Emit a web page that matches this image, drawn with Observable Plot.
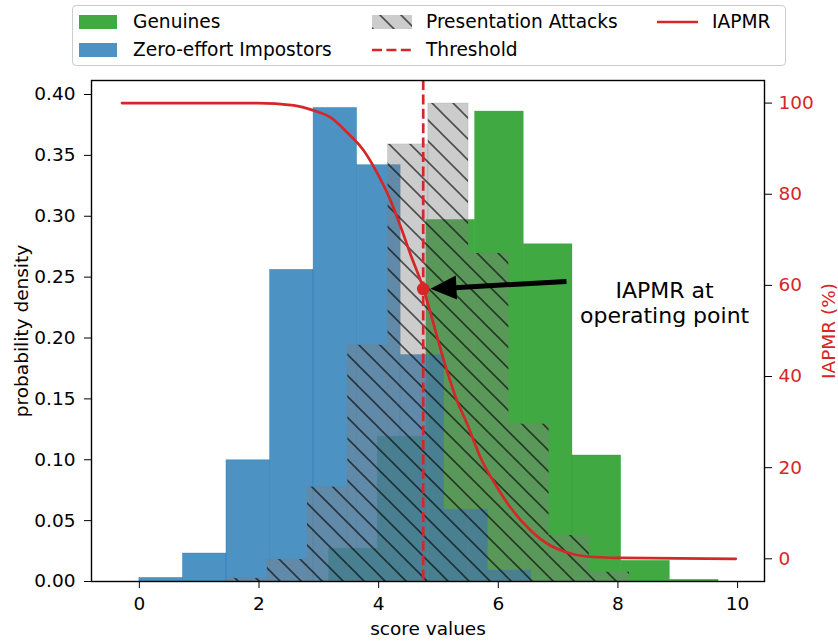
<!DOCTYPE html>
<html>
<head>
<meta charset="utf-8">
<script src="https://cdn.jsdelivr.net/npm/d3@7"></script>
<script src="https://cdn.jsdelivr.net/npm/@observablehq/plot@0.6"></script>
<style>
  html, body { margin: 0; padding: 0; background: #fff; }
  body { font-family: "DejaVu Sans", sans-serif; width: 838px; }
  #legendWrap { position: relative; width: 838px; height: 70px; }
  #legendBox { position: absolute; left: 72px; top: 5px; width: 714px; height: 61px; box-sizing: border-box;
               border: 1px solid #cccccc; border-radius: 4px; background: #fff; }
  .lab { position: absolute; font-size: 18.6px; line-height: 22px; color: #000; white-space: nowrap; }
  .sw { position: absolute; }
</style>
</head>
<body>
<div id="legendWrap"></div>
<div id="chart"></div>
<script>
// ---------- data ----------
const legendLabels = ["Genuines", "Zero-effort Impostors", "Presentation Attacks", "Threshold", "IAPMR"];

// Genuines histogram (bin edges, densities)
const genuineEdges   = [3.17, 3.984, 4.798, 5.612, 6.426, 7.24, 8.054, 8.868, 9.682];
const genuineHeights = [0.027, 0.119, 0.297, 0.386, 0.277, 0.1035, 0.017, 0.0014];

// Zero-effort impostors histogram
const impostorEdges   = [0, 0.728, 1.456, 2.184, 2.912, 3.64, 4.368, 5.096, 5.824, 6.552];
const impostorHeights = [0.003, 0.023, 0.0996, 0.256, 0.389, 0.342, 0.186, 0.059, 0.009];

// Presentation attacks histogram
const attackEdges   = [1.467, 2.14, 2.812, 3.485, 4.158, 4.83, 5.503, 6.176, 6.849, 7.521, 8.194];
const attackHeights = [0.0025, 0.018, 0.0775, 0.194, 0.359, 0.3926, 0.2694, 0.1292, 0.0378, 0.0076];

// IAPMR curve (score, %)
const iapmrScores = [-0.29, 1.97, 2.58, 2.91, 3.19, 3.47, 3.75, 3.97, 4.20, 4.37, 4.53, 4.75, 4.87, 5.09, 5.31, 5.48, 5.70, 5.98, 6.20, 6.54, 6.82, 7.15, 7.48, 8.03, 9.97];
const iapmrValues = [100, 100, 99.5, 98.4, 96.9, 93.6, 89.6, 84.8, 78.6, 72.8, 66.9, 59.2, 53.8, 43.5, 34.7, 29.6, 22.3, 15.7, 11.3, 6.2, 3.3, 1.4, 0.5, 0.2, 0];

const threshold = 4.745;
const operatingIapmr = 59.2;

// annotation
const annotationText = "IAPMR at\noperating point";
const annotationPos = {x: 8.78, v: 56.3};
const arrowStart = {x: 7.14, v: 60.85};
const arrowShaftEnd = {x: 5.20, v: 59.45};
const arrowTip = {x: 4.866, v: 59.25};

// ticks
const xTicks = [0, 2, 4, 6, 8, 10];
const yTicks = [0, 0.05, 0.10, 0.15, 0.20, 0.25, 0.30, 0.35, 0.40];
const rightTicks = [0, 20, 40, 60, 80, 100];

const xLabel = "score values";
const yLabel = "probability density";
const rightLabel = "IAPMR (%)";

// ---------- styles ----------
const GREEN = "#2ca02c", BLUE = "#1f77b4", RED = "#d62728", GREY = "#808080";
const HATCH = 21;

// twin axis mapping: IAPMR % -> left-axis units
const rOff = 0.01864, rK = 0.003743;
const toLeft = v => rOff + rK * v;

function bins(edges, heights) {
  return heights.map((h, i) => ({x1: edges[i], x2: edges[i + 1], h}));
}
const genuine = bins(genuineEdges, genuineHeights);
const impostor = bins(impostorEdges, impostorHeights);
const attack = bins(attackEdges, attackHeights);
const curve = iapmrScores.map((x, i) => ({x, v: iapmrValues[i]}));

function hatchDefs() {
  const g = d3.create("svg:g");
  const p = g.append("defs").append("pattern")
    .attr("id", "hatch").attr("patternUnits", "userSpaceOnUse")
    .attr("width", HATCH).attr("height", HATCH);
  p.append("path")
    .attr("d", `M-2,-2L${HATCH + 2},${HATCH + 2}M${HATCH - 2},-2L${HATCH + 2},2M-2,${HATCH - 2}L2,${HATCH + 2}`)
    .attr("stroke", "#000").attr("stroke-opacity", 0.62).attr("stroke-width", 1.6).attr("fill", "none");
  return g.node();
}

const headSymbol = {
  draw(ctx) { ctx.moveTo(0, 0); ctx.lineTo(26, -12); ctx.lineTo(26, 12); ctx.closePath(); }
};

const chart = Plot.plot({
  width: 838,
  height: 572,
  marginTop: 10,
  marginBottom: 61,
  marginLeft: 91,
  marginRight: 74,
  style: {fontFamily: "DejaVu Sans", fontSize: "18.5px", color: "black", background: "white", overflow: "visible"},
  x: {domain: [-0.80, 10.45]},
  y: {domain: [0, 0.4115]},
  marks: [
    hatchDefs,
    Plot.rect(genuine, {x1: "x1", x2: "x2", y1: 0, y2: "h", fill: GREEN, fillOpacity: 0.9, stroke: GREEN, strokeOpacity: 0.5, strokeWidth: 0.6}),
    Plot.rect(impostor, {x1: "x1", x2: "x2", y1: 0, y2: "h", fill: BLUE, fillOpacity: 0.8, stroke: BLUE, strokeOpacity: 0.5, strokeWidth: 0.6}),
    Plot.rect(attack, {x1: "x1", x2: "x2", y1: 0, y2: "h", fill: GREY, fillOpacity: 0.4, stroke: GREY, strokeOpacity: 0.25, strokeWidth: 0.8}),
    Plot.rect(attack, {x1: "x1", x2: "x2", y1: 0, y2: "h", fill: "url(#hatch)"}),
    Plot.ruleX([threshold], {stroke: RED, strokeWidth: 2.7, strokeDasharray: "10,4.4"}),
    Plot.line(curve, {x: "x", y: d => toLeft(d.v), stroke: RED, strokeWidth: 2.7, curve: "monotone-x"}),
    Plot.dot([{x: threshold, v: operatingIapmr}], {x: "x", y: d => toLeft(d.v), r: 6.3, fill: RED}),
    Plot.link([{a: arrowStart, b: arrowShaftEnd}], {
      x1: d => d.a.x, y1: d => toLeft(d.a.v), x2: d => d.b.x, y2: d => toLeft(d.b.v),
      stroke: "black", strokeWidth: 5
    }),
    Plot.dot([arrowTip], {x: "x", y: d => toLeft(d.v), symbol: headSymbol, r: 10, fill: "black", stroke: "none", rotate: -3}),
    Plot.text([annotationPos], {x: "x", y: d => toLeft(d.v), text: () => annotationText, fontSize: 22, lineHeight: 1.14, textAnchor: "middle", fill: "black"}),
    Plot.frame({stroke: "black", strokeWidth: 1.4}),
    Plot.axisX({ticks: xTicks, tickFormat: d => String(d), tickSize: 7, tickPadding: 8, label: null}),
    Plot.axisY({ticks: yTicks, tickFormat: d3.format(".2f"), tickSize: 7, tickPadding: 9, label: null}),
    Plot.axisY({anchor: "right", ticks: rightTicks.map(toLeft), tickFormat: () => "", tickSize: 7, label: null}),
    Plot.axisY({anchor: "right", ticks: rightTicks.map(toLeft), tickFormat: d => String(Math.round((d - rOff) / rK)), tickSize: 0, tickPadding: 14, color: RED, label: null}),
    Plot.text([xLabel], {text: d => d, frameAnchor: "bottom", lineAnchor: "middle", textAnchor: "middle", dy: 48, fill: "black"}),
    Plot.text([yLabel], {text: d => d, frameAnchor: "left", lineAnchor: "middle", textAnchor: "middle", dx: -69, rotate: -90, fill: "black"}),
    Plot.text([rightLabel], {text: d => d, frameAnchor: "right", lineAnchor: "middle", textAnchor: "middle", dx: 65, rotate: -90, fill: RED})
  ]
});
document.getElementById("chart").appendChild(chart);

// ---------- legend (HTML above the SVG) ----------
const wrap = document.getElementById("legendWrap");
wrap.innerHTML = `<div id="legendBox"></div>
<svg class="sw" style="left:79px;top:15px" width="38" height="14"><rect width="38" height="14" fill="${GREEN}" fill-opacity="0.9"/></svg>
<svg class="sw" style="left:79px;top:43px" width="38" height="14"><rect width="38" height="14" fill="${BLUE}" fill-opacity="0.8"/></svg>
<svg class="sw" style="left:372px;top:15px" width="40" height="14">
  <defs><pattern id="hatchL" patternUnits="userSpaceOnUse" width="${HATCH}" height="${HATCH}" x="8" y="0">
    <path d="M-2,-2L${HATCH + 2},${HATCH + 2}M${HATCH - 2},-2L${HATCH + 2},2M-2,${HATCH - 2}L2,${HATCH + 2}" stroke="#000" stroke-opacity="0.62" stroke-width="1.6" fill="none"/>
  </pattern></defs>
  <rect width="40" height="14" fill="${GREY}" fill-opacity="0.4"/>
  <rect width="40" height="14" fill="url(#hatchL)"/>
</svg>
<svg class="sw" style="left:372px;top:43px" width="40" height="14"><line x1="0" y1="7" x2="40" y2="7" stroke="${RED}" stroke-width="2.7" stroke-dasharray="10,4.4"/></svg>
<svg class="sw" style="left:657px;top:15px" width="41" height="14"><line x1="0" y1="7" x2="41" y2="7" stroke="${RED}" stroke-width="2.7"/></svg>
<div class="lab" style="left:133px;top:11px">${legendLabels[0]}</div>
<div class="lab" style="left:133px;top:39px">${legendLabels[1]}</div>
<div class="lab" style="left:426px;top:11px">${legendLabels[2]}</div>
<div class="lab" style="left:426px;top:39px">${legendLabels[3]}</div>
<div class="lab" style="left:712px;top:11px">${legendLabels[4]}</div>`;
</script>
</body>
</html>
